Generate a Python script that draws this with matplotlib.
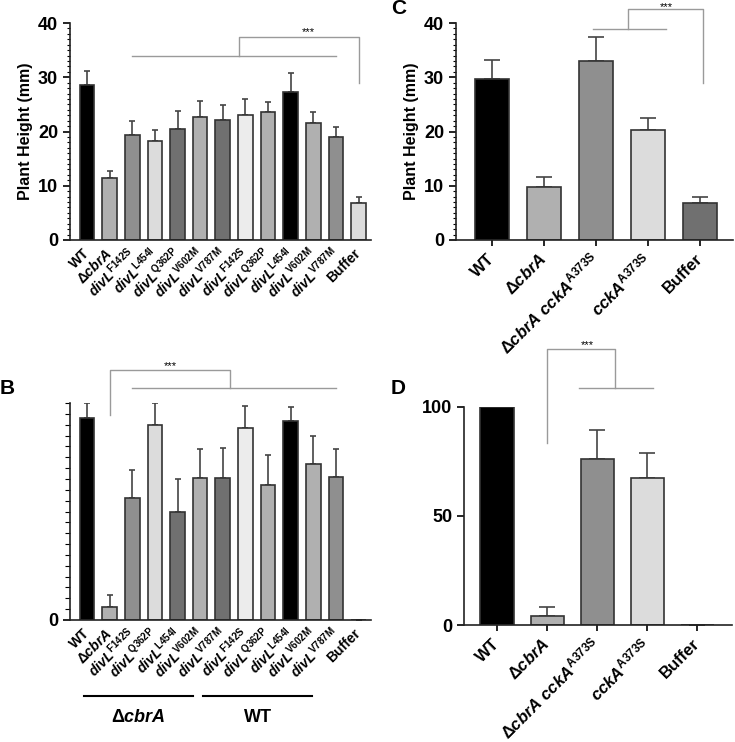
import matplotlib
matplotlib.use("Agg")
import matplotlib.pyplot as plt
import matplotlib.transforms as mtransforms
import numpy as np

plt.rcParams['font.family'] = ['Liberation Sans', 'DejaVu Sans']
plt.rcParams['font.weight'] = 'bold'
plt.rcParams['mathtext.fontset'] = 'custom'
plt.rcParams['mathtext.rm'] = 'Liberation Sans:bold'
plt.rcParams['mathtext.it'] = 'Liberation Sans:italic:bold'
plt.rcParams['mathtext.bf'] = 'Liberation Sans:bold'

# panel A / B data
labels_a = ['WT', r'$\Delta\mathit{cbrA}$',
            r'$\mathit{divL}^{\mathrm{F142S}}$', r'$\mathit{divL}^{\mathrm{L454I}}$',
            r'$\mathit{divL}^{\mathrm{Q362P}}$', r'$\mathit{divL}^{\mathrm{V602M}}$',
            r'$\mathit{divL}^{\mathrm{V787M}}$', r'$\mathit{divL}^{\mathrm{F142S}}$',
            r'$\mathit{divL}^{\mathrm{Q362P}}$', r'$\mathit{divL}^{\mathrm{L454I}}$',
            r'$\mathit{divL}^{\mathrm{V602M}}$', r'$\mathit{divL}^{\mathrm{V787M}}$', 'Buffer']
height_a = [28.6, 11.4, 19.3, 18.3, 20.5, 22.7, 22.2, 23.1, 23.6, 27.2, 21.5, 19.0, 6.8]
err_a = [2.6, 1.3, 2.6, 1.9, 3.2, 3.0, 2.7, 2.9, 1.9, 3.6, 2.1, 1.9, 1.1]
colors_a = ['#000000', '#b0b0b0', '#8f8f8f', '#dcdcdc', '#707070', '#b0b0b0', '#707070',
            '#ececec', '#b0b0b0', '#000000', '#b0b0b0', '#8f8f8f', '#dcdcdc']

labels_b = ['WT', r'$\Delta\mathit{cbrA}$',
            r'$\mathit{divL}^{\mathrm{F142S}}$', r'$\mathit{divL}^{\mathrm{Q362P}}$',
            r'$\mathit{divL}^{\mathrm{L454I}}$', r'$\mathit{divL}^{\mathrm{V602M}}$',
            r'$\mathit{divL}^{\mathrm{V787M}}$', r'$\mathit{divL}^{\mathrm{F142S}}$',
            r'$\mathit{divL}^{\mathrm{Q362P}}$', r'$\mathit{divL}^{\mathrm{L454I}}$',
            r'$\mathit{divL}^{\mathrm{V602M}}$', r'$\mathit{divL}^{\mathrm{V787M}}$', 'Buffer']
height_b = [93.1, 6.1, 56.0, 90.0, 49.7, 65.5, 65.5, 88.7, 62.0, 91.6, 71.9, 66.1, 0]
err_b = [6.9, 5.4, 12.9, 10.0, 15.3, 13.5, 13.8, 10.1, 14.2, 6.7, 13.1, 12.6, 0]
colors_b = ['#000000', '#b0b0b0', '#8f8f8f', '#dcdcdc', '#707070', '#b0b0b0', '#707070',
            '#ececec', '#b0b0b0', '#000000', '#b0b0b0', '#8f8f8f', '#dcdcdc']

# panel C / D data
labels_c = ['WT', r'$\Delta\mathit{cbrA}$', r'$\Delta\mathit{cbrA\ cckA}^{\mathrm{A373S}}$',
            r'$\mathit{cckA}^{\mathrm{A373S}}$', 'Buffer']
height_c = [29.7, 9.85, 33.0, 20.2, 6.9]
err_c = [3.5, 1.75, 4.4, 2.3, 1.1]
colors_c = ['#000000', '#b0b0b0', '#8f8f8f', '#dcdcdc', '#707070']

height_d = [100, 4.0, 76.2, 67.3, 0]
err_d = [0, 4.1, 13.1, 11.8, 0]
colors_d = ['#000000', '#b0b0b0', '#8f8f8f', '#dcdcdc', '#707070']

GRAY = '#9a9a9a'
W, H = 735, 742


def box(l, r, b, t):
    return [l / W, 1 - b / H, (r - l) / W, (b - t) / H]


def bars(ax, h, e, c, width, cap):
    x = np.arange(len(h))
    ax.errorbar(x, h, yerr=[np.zeros(len(e)), e], fmt='none', ecolor='#444444',
                elinewidth=1.2, capsize=cap, capthick=1.2, zorder=1)
    ax.bar(x, h, width=width, color=c, edgecolor='#333333', linewidth=1.2, zorder=2)
    for s in ['top', 'right']:
        ax.spines[s].set_visible(False)
    for s in ['left', 'bottom']:
        ax.spines[s].set_linewidth(1.2)
        ax.spines[s].set_color('#222222')
    return x


def line(ax, xs, ys):
    ax.plot(xs, ys, color=GRAY, lw=1.0, clip_on=False, zorder=3)


def xlabels(ax, x, labels, size, dx=0.0, dy=0.0):
    ax.set_xticks(x)
    ax.set_xticklabels(labels, rotation=45, ha='right', va='center',
                       rotation_mode='anchor', fontsize=size)
    if dx or dy:
        off = mtransforms.ScaledTranslation(dx, dy, fig.dpi_scale_trans)
        for t in ax.get_xticklabels():
            t.set_transform(t.get_transform() + off)


fig = plt.figure(figsize=(7.35, 7.42), dpi=100)

# ---- A
ax = fig.add_axes(box(70, 371, 240, 23))
x = bars(ax, height_a, err_a, colors_a, 0.65, 2.5)
ax.set_xlim(-0.75, 12.55)
ax.set_ylim(0, 40)
ax.set_yticks([0, 10, 20, 30, 40])
ax.set_yticks(np.arange(0, 41, 1), minor=True)
ax.tick_params(axis='y', which='major', length=5, width=1.2, labelsize=13)
ax.tick_params(axis='y', which='minor', length=2.5, width=0.8)
xlabels(ax, x, labels_a, 10, 0.06, 0.0)
ax.tick_params(axis='x', length=0, pad=8)
ax.set_ylabel('Plant Height (mm)', fontsize=11.5, fontweight='bold', labelpad=4)
line(ax, [2, 11], [34, 34])
line(ax, [6.7, 6.7, 12, 12], [34, 37.4, 37.4, 29])
ax.text(9.8, 38.3, '***', ha='center', va='center', fontsize=8, fontweight='normal')

# ---- B
ax = fig.add_axes(box(70, 371, 620, 403))
x = bars(ax, height_b, err_b, colors_b, 0.65, 2.5)
ax.set_xlim(-0.75, 12.55)
ax.set_ylim(0, 100)
ax.set_yticks([0])
ax.set_yticks(np.arange(0, 101, 5), minor=True)
ax.tick_params(axis='y', which='major', length=5, width=1.2, labelsize=13)
ax.tick_params(axis='y', which='minor', length=3.5, width=0.8)
xlabels(ax, x, labels_b, 10, 0.06, 0.0)
ax.tick_params(axis='x', length=0, pad=8)
line(ax, [1, 1, 6.3, 6.3], [94.5, 115, 115, 107])
line(ax, [2, 11], [107, 107])
ax.text(3.7, 117, '***', ha='center', va='center', fontsize=8, fontweight='normal')
tr = ax.get_xaxis_transform()
ax.plot([-0.13, 4.69], [-0.35, -0.35], color='black', lw=1.5, transform=tr, clip_on=False)
ax.plot([5.13, 9.96], [-0.35, -0.35], color='black', lw=1.5, transform=tr, clip_on=False)
ax.text(2.28, -0.45, r'$\Delta\mathit{cbrA}$', transform=tr, ha='center', va='center', fontsize=13)
ax.text(7.55, -0.45, 'WT', transform=tr, ha='center', va='center', fontsize=13, fontweight='bold')

# ---- C
ax = fig.add_axes(box(456, 733, 240, 23))
x = bars(ax, height_c, err_c, colors_c, 0.65, 5.5)
ax.set_xlim(-0.69, 4.63)
ax.set_ylim(0, 40)
ax.set_yticks([0, 10, 20, 30, 40])
ax.set_yticks(np.arange(0, 41, 1), minor=True)
ax.tick_params(axis='y', which='major', length=5, width=1.2, labelsize=13)
ax.tick_params(axis='y', which='minor', length=2.5, width=0.8)
xlabels(ax, x, labels_c, 12, 0.16, 0.08)
ax.tick_params(axis='x', length=4, width=1.2, pad=8)
ax.set_ylabel('Plant Height (mm)', fontsize=11.5, fontweight='bold', labelpad=4)
line(ax, [1.95, 3.35], [38.9, 38.9])
line(ax, [2.62, 2.62, 4.06, 4.06], [38.9, 42.5, 42.5, 28.9])
ax.text(3.35, 43.0, '***', ha='center', va='center', fontsize=8, fontweight='normal')

# ---- D
ax = fig.add_axes(box(464, 732, 625, 407))
x = bars(ax, height_d, err_d, colors_d, 0.66, 5.5)
ax.set_xlim(-0.66, 4.7)
ax.set_ylim(0, 100)
ax.set_yticks([0, 50, 100])
ax.tick_params(axis='y', which='major', length=5, width=1.2, labelsize=13)
xlabels(ax, x, labels_c, 12, 0.16, 0.08)
ax.tick_params(axis='x', length=4, width=1.2, pad=8)
line(ax, [1.0, 1.0, 2.36, 2.36], [83.5, 126.6, 126.6, 108.7])
line(ax, [1.64, 3.12], [108.7, 108.7])
ax.text(1.8, 128.3, '***', ha='center', va='center', fontsize=8, fontweight='normal')

# panel letters
fig.text(0 / W, 1 - 389 / H, 'B', fontsize=15, fontweight='bold', va='center')
fig.text(391 / W, 1 - 8 / H, 'C', fontsize=15, fontweight='bold', va='center')
fig.text(391 / W, 1 - 389 / H, 'D', fontsize=15, fontweight='bold', va='center')

fig.savefig('out.png', dpi=100)
